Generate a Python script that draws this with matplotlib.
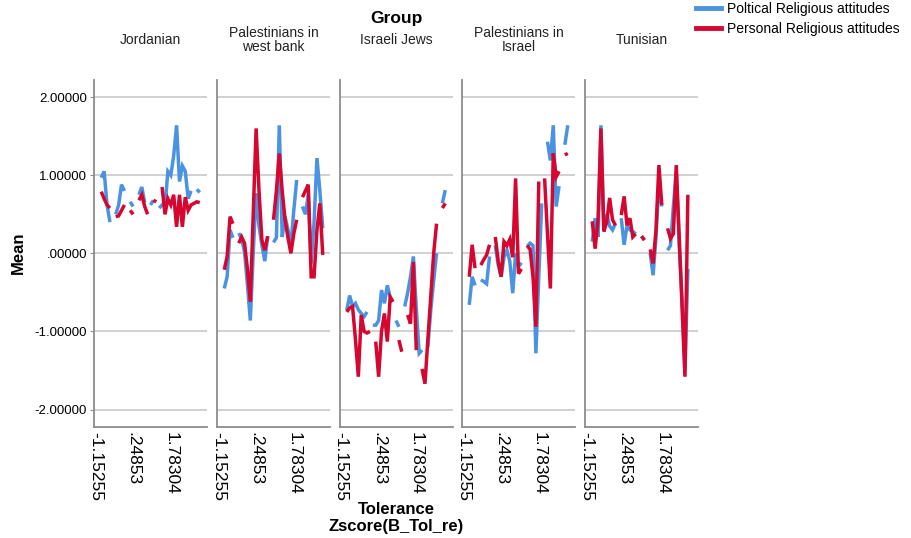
import numpy as np
import matplotlib
matplotlib.use('Agg')
import matplotlib.pyplot as plt
from matplotlib.lines import Line2D

plt.rcParams['font.family'] = ['Liberation Sans', 'DejaVu Sans']

nan = np.nan

groups = ['Jordanian', 'Palestinians in\nwest bank', 'Israeli Jews',
          'Palestinians in\nIsrael', 'Tunisian']
tick_labels = ['-1.15255', '.24853', '1.78304']
tick_cats = [0, 13, 26]
n_cats = 39
data_cats = np.arange(2, 37)
y_ticks = [-2, -1, 0, 1, 2]

# Poltical Religious attitudes (blue)
pol_jor = [0.97, 1.05, 0.62, 0.40, nan, 0.50, 0.62, 0.88, 0.80, nan, 0.66, 0.60, nan, 0.75, 0.85, 0.65, nan, 0.62,
           0.68, nan, 0.58, 0.62, 0.60, 1.05, 1.00, 1.25, 1.64, 0.92, 1.12, 1.05, 0.70, 0.80, nan, 0.82, 0.78]
pol_wb = [-0.45, -0.30, 0.30, 0.20, nan, 0.26, 0.18, 0.02, -0.40, -0.86, 0.00, 0.77, 0.35, 0.10, -0.10, 0.22, nan,
          0.14, 0.20, 1.64, 0.21, 0.47, 0.30, 0.10, 0.55, 0.94, nan, 0.60, 0.50, 0.75, -0.13, 0.40, 1.22, 0.80, 0.32]
pol_ij = [-0.73, -0.54, -0.68, -0.64, -0.72, -0.77, -0.81, -0.75, nan, -0.92, -0.92, -0.86, -0.47, -0.64, -0.41,
          -0.56, nan, -0.86, -0.94, nan, -0.68, -0.51, -0.30, -0.04, -0.70, -1.28, -1.24, nan, -1.20, -0.73, -0.35,
          0.00, nan, 0.64, 0.81]
pol_pi = [-0.66, -0.30, -0.41, nan, -0.34, -0.36, -0.39, -0.04, nan, 0.10, -0.15, -0.30, -0.05, 0.04, -0.10, -0.51,
          0.00, -0.17, -0.12, nan, 0.09, 0.13, 0.10, -1.28, -0.30, 0.64, nan, 1.43, 1.19, 1.64, 0.60, 0.86, nan,
          1.39, 1.64]
pol_tun = [0.15, 0.45, 0.21, 1.64, 0.30, 0.50, 0.35, 0.30, 0.38, nan, 0.45, 0.11, 0.35, 0.30, 0.28, 0.25, nan, 0.22,
           0.17, nan, 0.00, -0.28, 0.20, 0.90, 0.60, nan, 0.04, 0.10, 0.60, 1.05, 0.10, -0.60, -1.50, -0.20, nan]

# Personal Religious attitudes (red)
pers_jor = [0.79, 0.70, 0.62, 0.58, nan, 0.47, 0.48, 0.55, 0.62, nan, 0.55, 0.50, nan, 0.68, 0.75, 0.60, 0.50, nan,
            0.68, 0.66, nan, 0.85, 0.50, 0.70, 0.62, 0.75, 0.34, 0.75, 0.34, 0.72, 0.55, 0.62, 0.64, 0.66, 0.65]
pers_wb = [-0.21, -0.04, 0.47, 0.38, nan, 0.13, 0.21, 0.13, -0.20, -0.62, 0.50, 1.60, 0.80, 0.17, 0.04, 0.22, nan,
           0.43, 0.80, 1.28, 0.80, 0.43, 0.20, 0.00, 0.25, 0.43, nan, 0.72, 0.80, 0.88, -0.30, -0.30, 0.30, 0.64, -0.02]
pers_ij = [-0.75, -0.70, -0.68, -1.10, -1.58, -0.79, -1.00, -1.02, -1.00, nan, -1.13, -1.58, -1.00, -0.77, -1.13,
           -0.56, -0.62, nan, -1.11, -1.26, nan, -0.79, -0.90, -0.11, -1.24, nan, -1.48, -1.67, -1.10, -0.55, 0.00,
           0.38, nan, 0.58, 0.64]
pers_pi = [-0.30, 0.11, -0.19, nan, -0.15, -0.08, -0.02, 0.11, nan, 0.21, -0.10, -0.30, 0.15, 0.10, 0.18, -0.05,
           0.96, -0.26, -0.20, nan, 0.10, 0.05, -0.30, -0.94, 0.92, nan, 0.96, 0.25, -0.45, 1.28, 0.98, 1.05, nan,
           1.26, 1.28]
pers_tun = [0.41, 0.06, 0.43, 1.60, 0.28, 0.40, 0.71, 0.43, 0.36, nan, 0.49, 0.73, 0.36, 0.45, 0.21, 0.25, nan, 0.22,
            0.17, nan, 0.05, -0.13, 0.30, 1.13, 0.62, nan, 0.32, 0.19, 0.25, 1.13, 0.23, -0.68, -1.58, 0.75, nan]

political = [pol_jor, pol_wb, pol_ij, pol_pi, pol_tun]
personal = [pers_jor, pers_wb, pers_ij, pers_pi, pers_tun]

blue = '#4A93E3'
red = '#D5062F'
grid_c = '#CDCDCD'
axis_c = '#8C8C8C'

W, H = 911, 538
fig = plt.figure(figsize=(W / 100, H / 100), dpi=100)

lefts = [94, 217, 339.5, 462, 585]
pw = 113
top, bottom = 80, 426.7


def ylab(v):
    s = f'{v:.5f}'
    if s.startswith('0.'):
        s = s[1:]
    return s


for i, g in enumerate(groups):
    ax = fig.add_axes([lefts[i] / W, 1 - bottom / H, pw / W, (bottom - top) / H])
    ax.plot(data_cats, political[i], color=blue, lw=2.5, solid_joinstyle='miter', solid_capstyle='butt')
    ax.plot(data_cats, personal[i], color=red, lw=2.5, solid_joinstyle='miter', solid_capstyle='butt')
    ax.set_xlim(-0.5, n_cats - 0.5)
    ax.set_ylim(-2.22, 2.22)
    ax.set_yticks(y_ticks)
    ax.yaxis.grid(True, color=grid_c, lw=1.3)
    ax.set_axisbelow(True)
    for s in ['top', 'right']:
        ax.spines[s].set_visible(False)
    for s in ['left', 'bottom']:
        ax.spines[s].set_color(axis_c)
        ax.spines[s].set_linewidth(1.3)
    ax.set_xticks(tick_cats)
    ax.set_xticklabels(tick_labels, rotation=-90, fontsize=12.5, va='top', ha='center')
    ax.tick_params(axis='x', length=0, pad=4)
    if i == 0:
        ax.set_yticklabels([ylab(v) for v in y_ticks], fontsize=9.5)
        ax.tick_params(axis='y', length=3, color=axis_c, pad=2)
    else:
        ax.set_yticklabels([])
        ax.tick_params(axis='y', length=0)
    fig.text((lefts[i] + pw / 2) / W, 1 - 40 / H, g, ha='center', va='center', fontsize=10,
             linespacing=1.05, color='#222222')

fig.text(396 / W, 1 - 18 / H, 'Group', ha='center', va='center', fontsize=12.5, fontweight='bold')
fig.text(18 / W, 1 - 253 / H, 'Mean', ha='center', va='center', rotation=90, fontsize=12, fontweight='bold')
fig.text(396 / W, 1 - 509 / H, 'Tolerance', ha='center', va='center', fontsize=12, fontweight='bold')
fig.text(396 / W, 1 - 527 / H, 'Zscore(B_Tol_re)', ha='center', va='center', fontsize=12, fontweight='bold')

handles = [Line2D([], [], color=blue, lw=3.5), Line2D([], [], color=red, lw=3.5)]
fig.legend(handles, ['Poltical Religious attitudes', 'Personal Religious attitudes'], loc='upper left',
           bbox_to_anchor=(696 / W, 1 - 2 / H), frameon=False, fontsize=10, handlelength=1.8,
           handletextpad=0.4, labelspacing=0.4, borderpad=0, borderaxespad=0)

fig.savefig('out.png', dpi=100)
